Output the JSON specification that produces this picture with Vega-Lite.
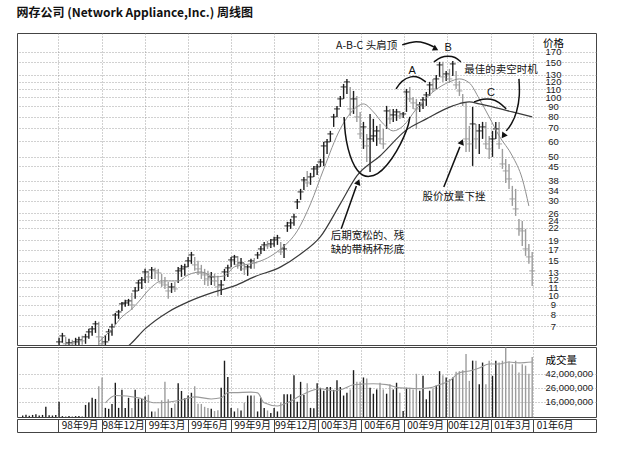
{
  "$schema": "https://vega.github.io/schema/vega-lite/v6.json",
  "padding": {"left": 16, "top": 6, "right": 26, "bottom": 5},
  "background": "white",
  "title": {"text": "网存公司 (Network Appliance,Inc.) 周线图", "anchor": "start", "font": "Noto Sans CJK SC", "fontSize": 12, "fontWeight": "bold", "color": "#111", "offset": 13},
  "spacing": 0,
  "datasets": {
    "weeks": [
      {"d":"1998-04-17","v":10000000},{"d":"1998-04-24","v":10300000},{"d":"1998-05-01","v":9900000},{"d":"1998-05-08","v":10200000},
      {"d":"1998-05-15","v":10400000},{"d":"1998-05-22","v":10000000},{"d":"1998-05-29","v":10200000},{"d":"1998-06-05","v":13500000},
      {"d":"1998-06-12","v":10100000},{"d":"1998-06-19","v":10000000},{"d":"1998-06-26","v":10200000},
      {"d":"1998-07-03","h":6.12,"l":5.58,"c":5.84,"v":16000000},
      {"d":"1998-07-10","h":6.48,"l":5.78,"c":6.26,"v":9800000},
      {"d":"1998-07-17","h":6.19,"l":5.58,"c":5.71,"v":9800000},
      {"d":"1998-07-24","h":6.05,"l":5.51,"c":5.78,"v":9800000},
      {"d":"1998-07-31","h":5.98,"l":5.51,"c":5.71,"v":9800000},
      {"d":"1998-08-07","h":6.12,"l":5.58,"c":5.84,"v":9800000},
      {"d":"1998-08-14","h":6.19,"l":5.58,"c":5.98,"v":9800000},
      {"d":"1998-08-21","h":6.26,"l":5.64,"c":5.91,"v":9800000},
      {"d":"1998-08-28","h":6.41,"l":5.71,"c":6.19,"v":14400000},
      {"d":"1998-09-04","h":6.79,"l":6.05,"c":6.56,"v":15600000},
      {"d":"1998-09-11","h":7.03,"l":6.26,"c":6.79,"v":18400000},
      {"d":"1998-09-18","h":7.45,"l":6.48,"c":7.2,"v":17700000},
      {"d":"1998-09-25","h":7.37,"l":5.58,"c":6.19,"v":27500000},
      {"d":"1998-10-02","h":6.19,"l":5.51,"c":5.71,"v":37100000},
      {"d":"1998-10-09","h":6.33,"l":5.58,"c":5.84,"v":13000000},
      {"d":"1998-10-16","h":6.79,"l":5.91,"c":6.56,"v":12600000},
      {"d":"1998-10-23","h":7.2,"l":6.26,"c":6.95,"v":14900000},
      {"d":"1998-10-30","h":8.17,"l":7.12,"c":7.98,"v":30900000},
      {"d":"1998-11-06","h":8.46,"l":7.63,"c":8.27,"v":13000000},
      {"d":"1998-11-13","h":9.29,"l":8.36,"c":9.08,"v":24200000},
      {"d":"1998-11-20","h":9.51,"l":8.77,"c":9.18,"v":13000000},
      {"d":"1998-11-27","h":9.62,"l":8.87,"c":9.4,"v":18400000},
      {"d":"1998-12-04","h":10.31,"l":8.46,"c":8.97,"v":13000000},
      {"d":"1998-12-11","h":11.05,"l":9.62,"c":10.55,"v":24200000},
      {"d":"1998-12-18","h":11.99,"l":10.55,"c":11.58,"v":17900000},
      {"d":"1998-12-25","h":12.42,"l":10.8,"c":11.99,"v":17700000},
      {"d":"1999-01-01","h":13.63,"l":11.58,"c":13.16,"v":19200000},
      {"d":"1999-01-08","h":13.32,"l":11.58,"c":12.42,"v":20400000},
      {"d":"1999-01-15","h":13.95,"l":12.13,"c":13.47,"v":11500000},
      {"d":"1999-01-22","h":13.79,"l":12.13,"c":13.32,"v":11500000},
      {"d":"1999-01-29","h":13.63,"l":11.85,"c":13.01,"v":12800000},
      {"d":"1999-02-05","h":12.86,"l":11.05,"c":11.58,"v":16900000},
      {"d":"1999-02-12","h":12.42,"l":10.8,"c":11.31,"v":31900000},
      {"d":"1999-02-19","h":11.71,"l":9.62,"c":10.55,"v":17500000},
      {"d":"1999-02-26","h":11.58,"l":10.31,"c":11.05,"v":13000000},
      {"d":"1999-03-05","h":11.71,"l":10.43,"c":10.8,"v":15100000},
      {"d":"1999-03-12","h":13.95,"l":11.58,"c":13.32,"v":30400000},
      {"d":"1999-03-19","h":14.28,"l":12.42,"c":13.63,"v":23300000},
      {"d":"1999-03-26","h":14.45,"l":12.57,"c":13.95,"v":18100000},
      {"d":"1999-04-02","h":15.66,"l":13.95,"c":14.96,"v":19900000},
      {"d":"1999-04-09","h":16.6,"l":14.45,"c":16.03,"v":21900000},
      {"d":"1999-04-16","h":15.66,"l":13.32,"c":14.28,"v":27500000},
      {"d":"1999-04-23","h":14.96,"l":12.71,"c":13.63,"v":15000000},
      {"d":"1999-04-30","h":14.28,"l":12.13,"c":13.01,"v":14900000},
      {"d":"1999-05-07","h":13.63,"l":11.31,"c":12.71,"v":13500000},
      {"d":"1999-05-14","h":13.32,"l":11.18,"c":12.13,"v":13000000},
      {"d":"1999-05-21","h":13.16,"l":11.31,"c":12.42,"v":12600000},
      {"d":"1999-05-28","h":12.86,"l":11.18,"c":11.85,"v":11700000},
      {"d":"1999-06-04","h":12.57,"l":9.96,"c":11.05,"v":12000000},
      {"d":"1999-06-11","h":11.99,"l":10.07,"c":11.31,"v":26000000},
      {"d":"1999-06-18","h":13.63,"l":11.85,"c":13.16,"v":66100000},
      {"d":"1999-06-25","h":14.28,"l":12.42,"c":13.79,"v":37700000},
      {"d":"1999-07-02","h":15.66,"l":13.95,"c":15.13,"v":13000000},
      {"d":"1999-07-09","h":16.03,"l":14.28,"c":15.66,"v":11500000},
      {"d":"1999-07-16","h":15.85,"l":13.63,"c":14.28,"v":12800000},
      {"d":"1999-07-23","h":15.48,"l":13.32,"c":14.61,"v":11900000},
      {"d":"1999-07-30","h":14.61,"l":12.71,"c":13.63,"v":15600000},
      {"d":"1999-08-06","h":14.28,"l":12.57,"c":13.95,"v":19900000},
      {"d":"1999-08-13","h":15.31,"l":13.63,"c":14.96,"v":19900000},
      {"d":"1999-08-20","h":15.48,"l":13.63,"c":14.61,"v":19900000},
      {"d":"1999-08-27","h":16.6,"l":15.31,"c":16.03,"v":11500000},
      {"d":"1999-09-03","h":17.8,"l":16.22,"c":17.19,"v":18400000},
      {"d":"1999-09-10","h":18.65,"l":16.79,"c":18.01,"v":13000000},
      {"d":"1999-09-17","h":18.87,"l":17.19,"c":17.8,"v":11900000},
      {"d":"1999-09-24","h":19.31,"l":17.39,"c":18.22,"v":10900000},
      {"d":"1999-10-01","h":19.77,"l":17.6,"c":19.09,"v":13000000},
      {"d":"1999-10-08","h":20.23,"l":18.01,"c":19.54,"v":11500000},
      {"d":"1999-10-15","h":18.65,"l":16.03,"c":16.6,"v":15600000},
      {"d":"1999-10-22","h":18.22,"l":15.48,"c":17.19,"v":20800000},
      {"d":"1999-10-29","h":23.53,"l":20.95,"c":22.46,"v":20800000},
      {"d":"1999-11-05","h":24.36,"l":21.69,"c":23.25,"v":20800000},
      {"d":"1999-11-12","h":25.82,"l":22.46,"c":24.93,"v":40200000},
      {"d":"1999-11-19","h":30.72,"l":27.36,"c":29.67,"v":16000000},
      {"d":"1999-11-26","h":34.51,"l":30.37,"c":33.33,"v":31900000},
      {"d":"1999-12-03","h":39.67,"l":34.11,"c":38.31,"v":20200000},
      {"d":"1999-12-10","h":42.53,"l":35.32,"c":37.0,"v":30400000},
      {"d":"1999-12-17","h":41.55,"l":36.15,"c":39.67,"v":13000000},
      {"d":"1999-12-24","h":45.07,"l":39.67,"c":43.53,"v":12800000},
      {"d":"1999-12-31","h":46.13,"l":40.6,"c":44.55,"v":30400000},
      {"d":"2000-01-07","h":48.89,"l":44.55,"c":47.22,"v":26000000},
      {"d":"2000-01-14","h":59.57,"l":45.07,"c":56.86,"v":23500000},
      {"d":"2000-01-21","h":61.68,"l":51.82,"c":59.57,"v":26700000},
      {"d":"2000-01-28","h":67.68,"l":59.57,"c":65.36,"v":26700000},
      {"d":"2000-02-04","h":82.46,"l":70.9,"c":79.64,"v":24200000},
      {"d":"2000-02-11","h":90.49,"l":79.64,"c":87.39,"v":33700000},
      {"d":"2000-02-18","h":101.6,"l":89.44,"c":98.15,"v":26700000},
      {"d":"2000-02-25","h":116.8,"l":98.15,"c":112.8,"v":19900000},
      {"d":"2000-03-03","h":123.8,"l":104.0,"c":119.6,"v":21900000},
      {"d":"2000-03-10","h":112.8,"l":80.57,"c":87.39,"v":24600000},
      {"d":"2000-03-17","h":107.7,"l":82.46,"c":98.15,"v":47700000},
      {"d":"2000-03-24","h":101.6,"l":75.15,"c":79.64,"v":31900000},
      {"d":"2000-03-31","h":84.4,"l":61.68,"c":65.36,"v":31900000},
      {"d":"2000-04-07","h":75.15,"l":54.92,"c":70.9,"v":37100000},
      {"d":"2000-04-14","h":65.36,"l":47.22,"c":56.86,"v":35800000},
      {"d":"2000-04-21","h":82.46,"l":42.04,"c":61.68,"v":26000000},
      {"d":"2000-04-28","h":77.81,"l":59.57,"c":63.86,"v":21200000},
      {"d":"2000-05-05","h":71.73,"l":56.86,"c":67.68,"v":24600000},
      {"d":"2000-05-12","h":73.42,"l":58.2,"c":61.68,"v":30900000},
      {"d":"2000-05-19","h":69.27,"l":54.92,"c":58.2,"v":24600000},
      {"d":"2000-05-26","h":90.49,"l":69.27,"c":85.38,"v":21200000},
      {"d":"2000-06-02","h":87.39,"l":73.42,"c":77.81,"v":29400000},
      {"d":"2000-06-09","h":87.39,"l":75.15,"c":81.51,"v":24600000},
      {"d":"2000-06-16","h":87.39,"l":76.02,"c":84.4,"v":30900000},
      {"d":"2000-06-23","h":85.38,"l":77.81,"c":80.57,"v":21900000},
      {"d":"2000-06-30","h":84.4,"l":78.72,"c":82.46,"v":11700000},
      {"d":"2000-07-07","h":110.2,"l":84.4,"c":106.4,"v":26000000},
      {"d":"2000-07-14","h":112.8,"l":94.79,"c":98.15,"v":26000000},
      {"d":"2000-07-21","h":100.4,"l":87.39,"c":93.69,"v":24600000},
      {"d":"2000-07-28","h":98.15,"l":69.27,"c":87.39,"v":42100000},
      {"d":"2000-08-04","h":94.79,"l":84.4,"c":91.54,"v":23500000},
      {"d":"2000-08-11","h":100.4,"l":87.39,"c":97.02,"v":39300000},
      {"d":"2000-08-18","h":106.4,"l":90.49,"c":102.8,"v":17500000},
      {"d":"2000-08-25","h":119.6,"l":101.6,"c":115.5,"v":23500000},
      {"d":"2000-09-01","h":123.8,"l":106.4,"c":110.2,"v":25500000},
      {"d":"2000-09-08","h":129.7,"l":110.2,"c":123.8,"v":28200000},
      {"d":"2000-09-15","h":150.9,"l":126.8,"c":145.7,"v":46100000},
      {"d":"2000-09-22","h":150.9,"l":119.6,"c":126.8,"v":40200000},
      {"d":"2000-09-29","h":135.9,"l":121.0,"c":131.2,"v":37100000},
      {"d":"2000-10-06","h":139.1,"l":118.2,"c":123.8,"v":35200000},
      {"d":"2000-10-13","h":152.6,"l":128.2,"c":147.4,"v":37100000},
      {"d":"2000-10-20","h":135.9,"l":110.2,"c":115.5,"v":45300000},
      {"d":"2000-10-27","h":121.0,"l":101.6,"c":107.7,"v":46100000},
      {"d":"2000-11-03","h":104.0,"l":90.49,"c":93.69,"v":47700000},
      {"d":"2000-11-10","h":94.79,"l":53.04,"c":61.68,"v":83500000},
      {"d":"2000-11-17","h":71.73,"l":53.04,"c":58.2,"v":33000000},
      {"d":"2000-11-24","h":89.44,"l":45.07,"c":73.42,"v":66300000},
      {"d":"2000-12-01","h":73.42,"l":54.92,"c":61.68,"v":66100000},
      {"d":"2000-12-08","h":73.42,"l":51.82,"c":67.68,"v":29400000},
      {"d":"2000-12-15","h":75.15,"l":61.68,"c":70.9,"v":62000000},
      {"d":"2000-12-22","h":75.15,"l":54.92,"c":58.2,"v":29400000},
      {"d":"2000-12-29","h":63.86,"l":48.89,"c":54.92,"v":66000000},
      {"d":"2001-01-05","h":67.68,"l":50.05,"c":61.68,"v":39300000},
      {"d":"2001-01-12","h":75.15,"l":61.68,"c":69.27,"v":66000000},
      {"d":"2001-01-19","h":75.15,"l":54.92,"c":58.2,"v":62000000},
      {"d":"2001-01-26","h":54.92,"l":43.53,"c":46.13,"v":66000000},
      {"d":"2001-02-02","h":48.89,"l":37.0,"c":42.53,"v":104000000},
      {"d":"2001-02-09","h":46.13,"l":34.51,"c":38.76,"v":64400000},
      {"d":"2001-02-16","h":35.73,"l":28.32,"c":30.72,"v":58400000},
      {"d":"2001-02-23","h":34.51,"l":25.22,"c":27.36,"v":66000000},
      {"d":"2001-03-02","h":24.36,"l":20.0,"c":21.69,"v":44000000},
      {"d":"2001-03-09","h":23.8,"l":17.8,"c":21.19,"v":58400000},
      {"d":"2001-03-16","h":21.69,"l":15.85,"c":17.19,"v":55800000},
      {"d":"2001-03-23","h":18.22,"l":14.45,"c":15.66,"v":42100000},
      {"d":"2001-03-30","h":16.6,"l":11.18,"c":13.32,"v":75300000}
    ],
    "ma10": [
      {"d":"1998-09-25","p":5.84},{"d":"1998-10-23","p":6.79},{"d":"1998-11-13","p":7.8},{"d":"1998-12-04","p":8.56},
      {"d":"1998-12-18","p":9.29},{"d":"1999-01-15","p":11.05},{"d":"1999-02-05","p":11.85},{"d":"1999-03-12","p":11.85},
      {"d":"1999-04-02","p":12.71},{"d":"1999-04-30","p":13.16},{"d":"1999-05-28","p":12.42},{"d":"1999-06-18","p":12.57},
      {"d":"1999-07-09","p":13.95},{"d":"1999-07-30","p":14.28},{"d":"1999-08-20","p":14.61},{"d":"1999-09-17","p":15.48},
      {"d":"1999-10-15","p":17.19},{"d":"1999-11-19","p":21.19},{"d":"1999-12-17","p":29.0},{"d":"2000-01-14","p":43.5},
      {"d":"2000-02-18","p":69.3},{"d":"2000-03-24","p":89.4},{"d":"2000-04-07","p":92.6},{"d":"2000-04-28","p":84.4},
      {"d":"2000-05-19","p":73.4},{"d":"2000-06-09","p":67.7},{"d":"2000-06-30","p":71.7},{"d":"2000-07-28","p":87.4},
      {"d":"2000-09-01","p":106.4},{"d":"2000-10-06","p":119.6},{"d":"2000-10-27","p":123.8},{"d":"2000-11-17","p":118.2},
      {"d":"2000-12-08","p":98.2},{"d":"2000-12-29","p":79.6},{"d":"2001-01-19","p":63.9},{"d":"2001-02-16","p":50.6},
      {"d":"2001-03-09","p":38.8},{"d":"2001-03-23","p":28.3}
    ],
    "ma40": [
      {"d":"1998-11-13","p":5.3},{"d":"1998-11-27","p":5.58},{"d":"1999-01-01","p":6.79},{"d":"1999-02-19","p":8.27},
      {"d":"1999-04-02","p":9.29},{"d":"1999-05-28","p":10.43},{"d":"1999-07-09","p":11.18},{"d":"1999-08-20","p":12.42},
      {"d":"1999-10-15","p":13.95},{"d":"1999-11-26","p":16.2},{"d":"2000-01-07","p":19.8},{"d":"2000-02-18","p":29.0},
      {"d":"2000-03-24","p":40.1},{"d":"2000-05-12","p":50.6},{"d":"2000-07-07","p":68.5},{"d":"2000-08-18","p":77.8},
      {"d":"2000-10-13","p":90.5},{"d":"2000-11-17","p":94.8},{"d":"2000-12-08","p":92.6},{"d":"2001-01-05","p":89.4},
      {"d":"2001-02-16","p":84.4},{"d":"2001-03-30","p":79.6}
    ],
    "vma": [
      {"d":"1998-10-09","v":15500000},{"d":"1998-10-30","v":19900000},{"d":"1998-12-18","v":18400000},{"d":"1999-01-22","v":15500000},
      {"d":"1999-03-19","v":17100000},{"d":"1999-04-16","v":19000000},{"d":"1999-05-21","v":17700000},{"d":"1999-06-11","v":18400000},
      {"d":"1999-06-25","v":22000000},{"d":"1999-07-09","v":22000000},{"d":"1999-08-13","v":22400000},{"d":"1999-08-27","v":21800000},
      {"d":"1999-09-10","v":15500000},{"d":"1999-10-08","v":13900000},{"d":"1999-10-29","v":15500000},{"d":"1999-11-26","v":19900000},
      {"d":"1999-12-17","v":23300000},{"d":"2000-01-07","v":25200000},{"d":"2000-02-04","v":23300000},{"d":"2000-02-25","v":25200000},
      {"d":"2000-03-17","v":28800000},{"d":"2000-04-28","v":29800000},{"d":"2000-05-26","v":29000000},{"d":"2000-06-23","v":25900000},
      {"d":"2000-08-04","v":25200000},{"d":"2000-08-25","v":25900000},{"d":"2000-09-15","v":29000000},{"d":"2000-10-06","v":33000000},
      {"d":"2000-10-27","v":43700000},{"d":"2000-11-17","v":46300000},{"d":"2000-12-08","v":51300000},{"d":"2000-12-29","v":59100000},
      {"d":"2001-01-19","v":59100000},{"d":"2001-02-09","v":63200000},{"d":"2001-03-02","v":61400000},{"d":"2001-03-30","v":63200000}
    ],
    "notes": [
      {"d":"2000-02-09","p":181.6,"t":"A-B-C 头肩顶"},
      {"d":"2000-11-06","p":137.5,"t":"最佳的卖空时机"},
      {"d":"2000-08-10","p":31.4,"t":"股价放量下挫"},
      {"d":"2000-01-29","p":20.0,"t":"后期宽松的、残"},
      {"d":"2000-01-29","p":17.0,"t":"缺的带柄杯形底"}
    ],
    "letters": [
      {"d":"2000-07-19","p":135.9,"t":"A"},
      {"d":"2000-10-03","p":177.5,"t":"B"},
      {"d":"2001-01-02","p":105.2,"t":"C"}
    ],
    "shapes": [
      {"s":"abc","o":1,"d":"2000-06-28","p":183.8},{"s":"abc","o":2,"d":"2000-07-23","p":192.5},
      {"s":"abc","o":3,"d":"2000-08-17","p":188.0},{"s":"abc","o":4,"d":"2000-09-03","p":179.5},
      {"s":"arcA","o":1,"d":"2000-06-15","p":110.2},{"s":"arcA","o":2,"d":"2000-06-26","p":121.0},
      {"s":"arcA","o":3,"d":"2000-07-17","p":128.2},{"s":"arcA","o":4,"d":"2000-08-02","p":126.8},
      {"s":"arcA","o":5,"d":"2000-08-17","p":119.6},
      {"s":"arcB","o":1,"d":"2000-09-03","p":150.9},{"s":"arcB","o":2,"d":"2000-09-18","p":159.9},
      {"s":"arcB","o":3,"d":"2000-10-03","p":161.7},{"s":"arcB","o":4,"d":"2000-10-18","p":159.9},
      {"s":"arcB","o":5,"d":"2000-10-30","p":150.9},
      {"s":"arcC","o":1,"d":"2000-11-27","p":94.8},{"s":"arcC","o":2,"d":"2000-12-16","p":98.2},
      {"s":"arcC","o":3,"d":"2001-01-02","p":98.2},{"s":"arcC","o":4,"d":"2001-01-19","p":94.8},
      {"s":"arcC","o":5,"d":"2001-02-03","p":87.4},
      {"s":"cup","o":1,"d":"2000-02-26","p":79.6},{"s":"cup","o":2,"d":"2000-02-28","p":65.4},
      {"s":"cup","o":3,"d":"2000-03-05","p":54.9},{"s":"cup","o":4,"d":"2000-03-14","p":47.2},
      {"s":"cup","o":5,"d":"2000-03-25","p":42.5},{"s":"cup","o":6,"d":"2000-04-06","p":40.1},
      {"s":"cup","o":7,"d":"2000-04-19","p":39.7},{"s":"cup","o":8,"d":"2000-05-06","p":40.6},
      {"s":"cup","o":9,"d":"2000-05-27","p":45.1},{"s":"cup","o":10,"d":"2000-06-17","p":53.7},
      {"s":"cup","o":11,"d":"2000-07-02","p":63.1},{"s":"cup","o":12,"d":"2000-07-12","p":73.4},
      {"s":"cup","o":13,"d":"2000-07-14","p":79.6},
      {"s":"short","o":1,"d":"2001-03-02","p":123.8},{"s":"short","o":2,"d":"2001-03-04","p":102.0},
      {"s":"short","o":3,"d":"2001-02-26","p":84.4},{"s":"short","o":4,"d":"2001-02-14","p":72.6},
      {"s":"short","o":5,"d":"2001-02-03","p":67.7},
      {"s":"drop","o":1,"d":"2000-09-24","p":35.3},{"s":"drop","o":2,"d":"2000-10-28","p":56.2},
      {"s":"cupArrow","o":1,"d":"2000-02-20","p":21.7},{"s":"cupArrow","o":2,"d":"2000-03-23","p":35.7}
    ],
    "heads": [
      {"s":"abc","d":"2000-09-07","p":175.4},
      {"s":"short","d":"2001-01-28","p":63.9},
      {"s":"drop","d":"2000-11-01","p":59.6},
      {"s":"cupArrow","d":"2000-03-27","p":37.4}
    ]
  },
  "vconcat": [
    {
      "width": 579,
      "height": 312,
      "layer": [
        {
          "data": {"name": "weeks"},
          "transform": [
            {"window": [{"op": "lag", "field": "c", "as": "pc"}], "sort": [{"field": "d"}]},
            {"calculate": "isValid(datum.pc) && datum.c < datum.pc ? 'down' : 'up'", "as": "dir"}
          ],
          "mark": {"type": "rule", "strokeWidth": 1.4, "clip": true},
          "encoding": {
            "x": {
              "field": "d", "type": "temporal", "title": null,
              "scale": {"domain": [{"year": 1998, "month": 4, "date": 5}, {"year": 2001, "month": 8, "date": 12}]},
              "axis": {
                "values": [
                  {"year":1998,"month":7,"date":1},{"year":1998,"month":10,"date":1},{"year":1999,"month":1,"date":1},
                  {"year":1999,"month":4,"date":1},{"year":1999,"month":7,"date":1},{"year":1999,"month":10,"date":1},
                  {"year":2000,"month":1,"date":1},{"year":2000,"month":4,"date":1},{"year":2000,"month":7,"date":1},
                  {"year":2000,"month":10,"date":1},{"year":2001,"month":1,"date":1},{"year":2001,"month":4,"date":1}
                ],
                "labels": false, "grid": true
              }
            },
            "y": {
              "field": "h", "type": "quantitative",
              "scale": {"type": "log", "domain": [5.63, 211], "nice": false},
              "axis": {
                "orient": "right",
                "values": [170,150,130,120,110,100,90,80,70,60,50,45,38,34,30,26,24,22,19,17,15,13,12,11,10,9,8,7],
                "format": "d",
                "labelAlign": "center", "labelPadding": -43, "labelBaseline": "middle",
                "labelOverlap": false, "labelFontSize": 9.5, "labelFont": "Liberation Sans",
                "grid": true,
                "title": "价格", "titleAngle": 0, "titleX": -43, "titleY": 10,
                "titleAlign": "center", "titleBaseline": "middle",
                "titleFont": "Noto Sans CJK SC", "titleFontSize": 10.5, "titleFontWeight": "normal"
              }
            },
            "y2": {"field": "l"},
            "color": {"field": "dir", "type": "nominal", "scale": {"domain": ["up", "down"], "range": ["#1c1c1c", "#9c9c9c"]}, "legend": null}
          }
        },
        {
          "data": {"name": "weeks"},
          "transform": [
            {"window": [{"op": "lag", "field": "c", "as": "pc"}], "sort": [{"field": "d"}]},
            {"calculate": "isValid(datum.pc) && datum.c < datum.pc ? 'down' : 'up'", "as": "dir"}
          ],
          "mark": {"type": "tick", "orient": "horizontal", "size": 6, "thickness": 1.3, "clip": true},
          "encoding": {
            "x": {"field": "d", "type": "temporal"},
            "y": {"field": "c", "type": "quantitative"},
            "color": {"field": "dir", "type": "nominal", "legend": null}
          }
        },
        {
          "data": {"name": "ma10"},
          "mark": {"type": "line", "color": "#8f8f8f", "strokeWidth": 1, "interpolate": "monotone", "clip": true},
          "encoding": {"x": {"field": "d", "type": "temporal"}, "y": {"field": "p", "type": "quantitative"}}
        },
        {
          "data": {"name": "ma40"},
          "mark": {"type": "line", "color": "#3a3a3a", "strokeWidth": 1.2, "interpolate": "monotone", "clip": true},
          "encoding": {"x": {"field": "d", "type": "temporal"}, "y": {"field": "p", "type": "quantitative"}}
        },
        {
          "data": {"name": "shapes"},
          "mark": {"type": "line", "color": "#111", "strokeWidth": 1.5, "interpolate": "basis"},
          "encoding": {
            "x": {"field": "d", "type": "temporal"},
            "y": {"field": "p", "type": "quantitative"},
            "detail": {"field": "s"},
            "order": {"field": "o"}
          }
        },
        {
          "data": {"name": "heads"},
          "transform": [{"filter": "datum.s == 'abc'"}],
          "mark": {"type": "point", "shape": "triangle-up", "filled": true, "color": "#111", "opacity": 1, "size": 40, "angle": 117},
          "encoding": {"x": {"field": "d", "type": "temporal"}, "y": {"field": "p", "type": "quantitative"}}
        },
        {
          "data": {"name": "heads"},
          "transform": [{"filter": "datum.s == 'short'"}],
          "mark": {"type": "point", "shape": "triangle-up", "filled": true, "color": "#111", "opacity": 1, "size": 45, "angle": 215},
          "encoding": {"x": {"field": "d", "type": "temporal"}, "y": {"field": "p", "type": "quantitative"}}
        },
        {
          "data": {"name": "heads"},
          "transform": [{"filter": "datum.s == 'drop' || datum.s == 'cupArrow'"}],
          "mark": {"type": "point", "shape": "triangle-up", "filled": true, "color": "#111", "opacity": 1, "size": 45, "angle": 21},
          "encoding": {"x": {"field": "d", "type": "temporal"}, "y": {"field": "p", "type": "quantitative"}}
        },
        {
          "data": {"name": "notes"},
          "mark": {"type": "text", "align": "left", "baseline": "middle", "font": "Noto Sans CJK SC", "fontSize": 10.5, "color": "#111"},
          "encoding": {"x": {"field": "d", "type": "temporal"}, "y": {"field": "p", "type": "quantitative"}, "text": {"field": "t"}}
        },
        {
          "data": {"name": "letters"},
          "mark": {"type": "text", "align": "center", "baseline": "middle", "font": "Liberation Sans", "fontSize": 11, "color": "#111"},
          "encoding": {"x": {"field": "d", "type": "temporal"}, "y": {"field": "p", "type": "quantitative"}, "text": {"field": "t"}}
        }
      ]
    },
    {
      "width": 579,
      "height": 70,
      "layer": [
        {
          "data": {"name": "weeks"},
          "transform": [
            {"window": [{"op": "lag", "field": "c", "as": "pc"}], "sort": [{"field": "d"}]},
            {"calculate": "isValid(datum.pc) && datum.c < datum.pc ? 'down' : 'up'", "as": "dir"}
          ],
          "mark": {"type": "rule", "strokeWidth": 1.4, "clip": true},
          "encoding": {
            "x": {
              "field": "d", "type": "temporal", "title": null,
              "scale": {"domain": [{"year": 1998, "month": 4, "date": 5}, {"year": 2001, "month": 8, "date": 12}]},
              "axis": {
                "values": [
                  {"year":1998,"month":7,"date":1},{"year":1998,"month":10,"date":1},{"year":1999,"month":1,"date":1},
                  {"year":1999,"month":4,"date":1},{"year":1999,"month":7,"date":1},{"year":1999,"month":10,"date":1},
                  {"year":2000,"month":1,"date":1},{"year":2000,"month":4,"date":1},{"year":2000,"month":7,"date":1},
                  {"year":2000,"month":10,"date":1},{"year":2001,"month":1,"date":1},{"year":2001,"month":4,"date":1}
                ],
                "labels": false, "grid": true
              }
            },
            "y": {
              "field": "v", "type": "quantitative",
              "scale": {"type": "log", "domain": [9500000, 106000000], "nice": false},
              "axis": {
                "orient": "right",
                "values": [16000000, 26000000, 42000000],
                "format": ",",
                "labelAlign": "left", "labelPadding": -51, "labelBaseline": "middle",
                "labelFontSize": 9.5, "labelFont": "Liberation Sans",
                "grid": true,
                "title": "成交量", "titleAngle": 0, "titleX": -51, "titleY": 13,
                "titleAlign": "left", "titleBaseline": "middle",
                "titleFont": "Noto Sans CJK SC", "titleFontSize": 10.5, "titleFontWeight": "normal"
              }
            },
            "y2": {"datum": 9500000},
            "color": {"field": "dir", "type": "nominal", "scale": {"domain": ["up", "down"], "range": ["#1c1c1c", "#9c9c9c"]}, "legend": null}
          }
        },
        {
          "data": {"name": "vma"},
          "mark": {"type": "line", "color": "#9a9a9a", "strokeWidth": 1.1, "interpolate": "monotone"},
          "encoding": {"x": {"field": "d", "type": "temporal"}, "y": {"field": "v", "type": "quantitative"}}
        }
      ]
    },
    {
      "width": 579,
      "height": 13,
      "data": {"name": "weeks"},
      "mark": {"type": "point", "opacity": 0},
      "encoding": {
        "x": {
          "field": "d", "type": "temporal", "title": null,
          "scale": {"domain": [{"year": 1998, "month": 4, "date": 5}, {"year": 2001, "month": 8, "date": 12}]},
          "axis": {
            "values": [
              {"year":1998,"month":7,"date":1},{"year":1998,"month":10,"date":1},{"year":1999,"month":1,"date":1},
              {"year":1999,"month":4,"date":1},{"year":1999,"month":7,"date":1},{"year":1999,"month":10,"date":1},
              {"year":2000,"month":1,"date":1},{"year":2000,"month":4,"date":1},{"year":2000,"month":7,"date":1},
              {"year":2000,"month":10,"date":1},{"year":2001,"month":1,"date":1},{"year":2001,"month":4,"date":1}
            ],
            "labelExpr": "timeFormat(datetime(year(datum.value), month(datum.value) + 2, 1), '%y年%-m月')",
            "labelAlign": "center", "labelOffset": 21.5, "labelPadding": -6.5, "labelBaseline": "middle",
            "labelFont": "Noto Sans CJK SC", "labelFontSize": 10, "labelColor": "#111",
            "labelOverlap": false, "labelFlush": false,
            "grid": true, "gridDash": [], "gridColor": "#444", "gridWidth": 1
          }
        }
      }
    }
  ],
  "config": {
    "view": {"stroke": "#444", "strokeWidth": 1},
    "axis": {
      "domain": false, "ticks": false, "tickSize": 0,
      "gridColor": "#8a8a8a", "gridDash": [1, 2], "gridWidth": 0.8,
      "labelColor": "#222"
    }
  }
}
